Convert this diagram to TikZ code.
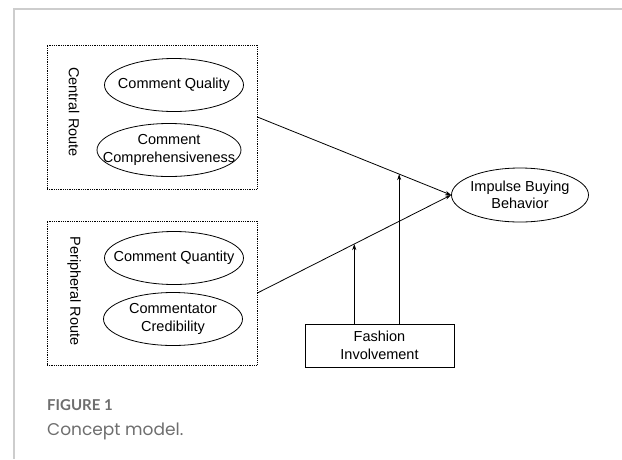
\documentclass[tikz,border=0pt]{standalone}
\usepackage{fontspec}
\setmainfont{Liberation Sans}
\newfontfamily\capfont{Poppins}
\newfontfamily\labelfont{Lato}
\usepackage{tikz}
\usetikzlibrary{shapes.geometric,arrows.meta}
\definecolor{framegray}{RGB}{205,205,205}
\definecolor{capgray}{RGB}{110,110,110}
\tikzstyle{every node}=[font=\fontsize{14.5}{17.5}\selectfont,align=center,inner sep=0pt]
\tikzstyle{construct}=[draw=black,thick,ellipse,inner xsep=-30pt,inner ysep=-12pt,minimum width=139pt,minimum height=53pt]
\tikzstyle{routebox}=[draw=black,densely dotted,thick,minimum width=210pt,minimum height=144pt]
\tikzstyle{path}=[draw=black,thick,-{Stealth[length=6pt,width=4pt]}]

\begin{document}
\begin{tikzpicture}[x=1pt,y=-1pt]
          \useasboundingbox (0,0) rectangle (622,459);
          \draw[framegray,line width=1.5pt] (622,9) -- (14,9) -- (14,459);
          % routes
          \node[routebox] (central) at (152,117) {};
          \node[routebox] (peripheral) at (152,293) {};
          \node[rotate=-90] (centrallabel) at (74,112) {Central Route};
          \node[rotate=-90] (peripherallabel) at (74,291) {Peripheral Route};
          \node[construct] (quality) at (174,85) {Comment Quality};
          \node[construct,minimum width=144pt] (comprehensive) at (169,150) {Comment\\Comprehensiveness};
          \node[construct] (quantity) at (174,258) {Comment Quantity};
          \node[construct] (credibility) at (173,319) {Commentator\\Credibility};
          % outcome and moderator
          \node[construct,minimum width=137pt,minimum height=54pt] (impulse) at (520,195) {Impulse Buying\\Behavior};
          \node[draw=black,thick,minimum width=149pt,minimum height=43pt] (fashion) at (379.5,345.5) {Fashion\\Involvement};
          \draw[path] (central.east) -- (impulse.west) coordinate[pos=0.732] (modcentral);
          \draw[path] (peripheral.east) -- (impulse.west) coordinate[pos=0.5] (modperipheral);
          \draw[path] (fashion.north -| modcentral) -- (modcentral);
          \draw[path] (fashion.north -| modperipheral) -- (modperipheral);
          % caption
          \node[anchor=base west,font=\labelfont\bfseries\fontsize{15}{17}\selectfont,text=capgray] (figlabel) at (47,410) {FIGURE 1};
          \node[anchor=base west,font=\capfont\fontsize{17}{20}\selectfont,text=capgray] (figcaption) at (47,435) {Concept model.};
        \end{tikzpicture}
\end{document}
